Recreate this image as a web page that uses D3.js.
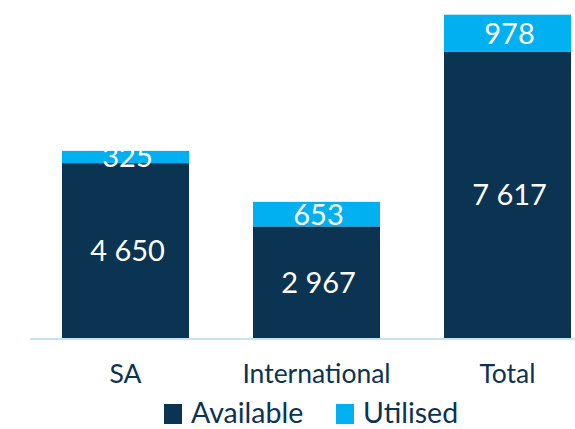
<!DOCTYPE html>
<html><head><meta charset="utf-8">
<script src="https://cdn.jsdelivr.net/npm/d3@7"></script>
<style>html,body{margin:0;padding:0;background:#fff;overflow:hidden}</style>
</head><body>
<svg id="chart" width="575" height="429"></svg>
<script>
const categories = ["SA", "International", "Total"];
const available = [4650, 2967, 7617];
const utilised = [325, 653, 978];
const seriesNames = ["Available", "Utilised"];
const fmt = v => d3.format(",")(v).replace(/,/g, " ");

const navy = "#0b3352", cyan = "#00b0f0";
const font = "Lato, 'Open Sans', sans-serif";
const svg = d3.select("#chart");

const x = d3.scaleBand().domain(categories).range([30, 603]).paddingInner(0.335).paddingOuter(0.1675);
const totals = categories.map((c, i) => available[i] + utilised[i]);
const y = d3.scaleLinear().domain([0, d3.max(totals)]).range([338, 14.7]);

const rows = categories.map((c, i) => ({cat: c, Available: available[i], Utilised: utilised[i]}));
const stack = d3.stack().keys(seriesNames)(rows);
const color = d3.scaleOrdinal().domain(seriesNames).range([navy, cyan]);

const g = svg.append("g");
stack.forEach(layer => {
  g.selectAll(null).data(layer).join("rect")
    .attr("x", d => x(d.data.cat))
    .attr("width", x.bandwidth())
    .attr("y", d => y(d[1]))
    .attr("height", d => y(d[0]) - y(d[1]))
    .attr("fill", color(layer.key));
});

// axis line
const xAxis = d3.axisBottom(x).tickSize(0).tickPadding(0).tickFormat("");
const ax = svg.append("g").attr("transform", "translate(0,339)").call(xAxis);
ax.select(".domain").attr("stroke", "#c6e2f5").attr("stroke-width", 2).attr("d", "M30,0H575");

// value labels
stack.forEach(layer => {
  g.selectAll(null).data(layer).join("text")
    .attr("x", d => x(d.data.cat) + x.bandwidth() / 2 + 2)
    .attr("y", d => (y(d[0]) + y(d[1])) / 2 + 10.5)
    .attr("text-anchor", "middle")
    .attr("fill", "#fff")
    .attr("font-family", font)
    .attr("font-size", 29)
    .text(d => fmt(d[1] - d[0]));
});

// category labels
svg.selectAll(null).data(categories).join("text")
  .attr("x", d => x(d) + x.bandwidth() / 2)
  .attr("y", 383)
  .attr("text-anchor", "middle")
  .attr("fill", navy)
  .attr("font-family", font)
  .attr("font-size", 26.5)
  .text(d => d);

// legend
const legendX = [164, 336];
const leg = svg.selectAll(null).data(seriesNames).join("g")
  .attr("transform", (d, i) => `translate(${legendX[i]},0)`);
leg.append("rect").attr("x", 0).attr("y", 404).attr("width", 18).attr("height", 20).attr("fill", d => color(d));
leg.append("text").attr("x", 27).attr("y", 423)
  .attr("fill", navy).attr("font-family", font).attr("font-size", 28.5)
  .text(d => d);
</script>
</body></html>
